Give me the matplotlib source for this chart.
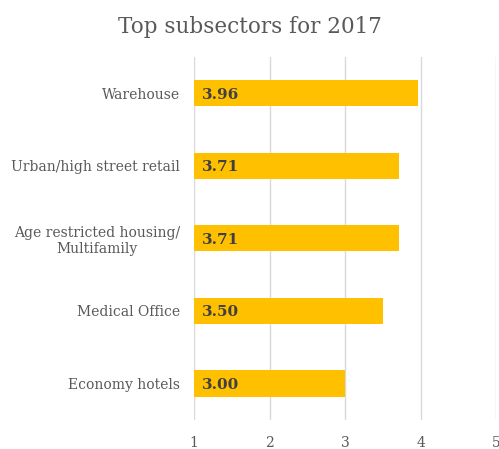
import matplotlib.pyplot as plt

categories = ['Warehouse', 'Urban/high street retail', 'Age restricted housing/\nMultifamily',
              'Medical Office', 'Economy hotels']
values = [3.96, 3.71, 3.71, 3.50, 3.00]
base = 1
xticks = [1, 2, 3, 4, 5]

plt.rcParams['font.family'] = ['DejaVu Serif']

fig = plt.figure(figsize=(4.99, 4.49), dpi=100)
ax = fig.add_axes([0.389, 0.065, 0.605, 0.808])

ypos = list(range(len(categories)))
widths = [v - base for v in values]
ax.barh(ypos, widths, left=base, height=0.36, color='#FFC000', zorder=3)

# value labels inside bars
for y, v in zip(ypos, values):
    ax.text(base + 0.1, y + 0.02, f'{v:.2f}', va='center', ha='left', fontsize=11,
            fontweight='bold', color='#404040', zorder=4)

ax.set_xlim(1, 5)
ax.set_ylim(4.5, -0.5)
ax.set_xticks(xticks)
ax.set_xticklabels([str(t) for t in xticks], fontsize=10, color='#595959')
ax.set_yticks(ypos)
ax.set_yticklabels(categories, fontsize=10, color='#595959', multialignment='center')
ax.tick_params(axis='x', length=0, pad=12)
ax.tick_params(axis='y', length=0, pad=10)
ax.xaxis.grid(True, color='#d9d9d9', linewidth=1, zorder=0)
for s in ax.spines.values():
    s.set_visible(False)

fig.suptitle('Top subsectors for 2017', y=0.965, fontsize=15.5, color='#595959')

fig.savefig('out.png', dpi=100)
